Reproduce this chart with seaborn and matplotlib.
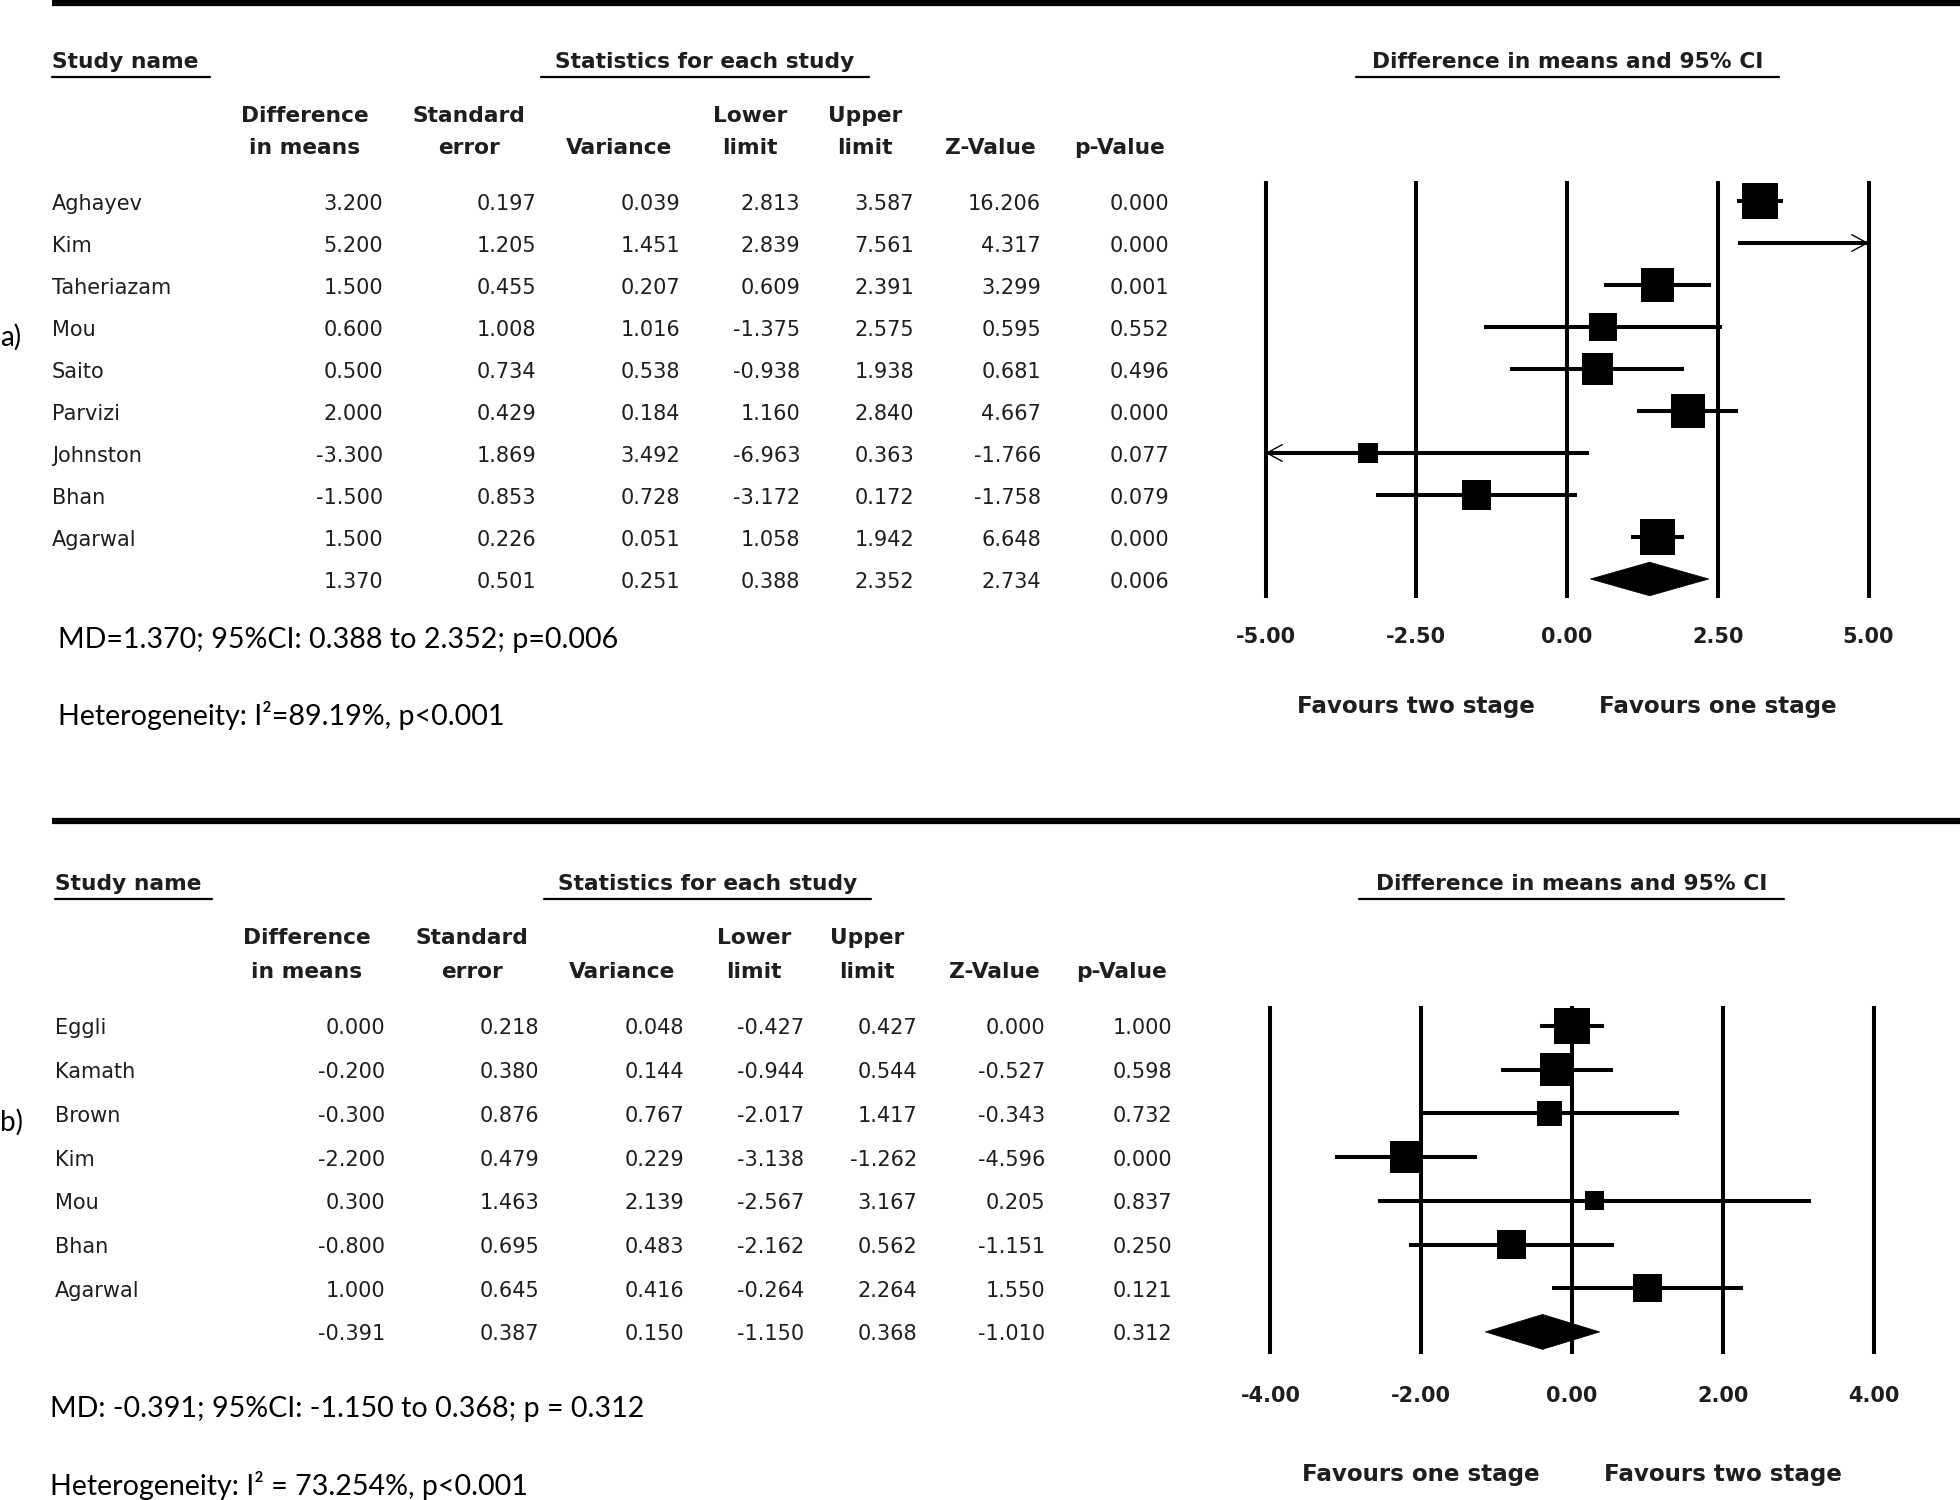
import numpy as np
import pandas as pd
import matplotlib
matplotlib.use("Agg")
import matplotlib.pyplot as plt
import matplotlib.transforms as mtransforms
from matplotlib.patches import Polygon
import seaborn as sns

# ── data: panel a) ───────────────────────────────────────────────────────────
studies_a = ["Aghayev", "Kim", "Taheriazam", "Mou", "Saito", "Parvizi",
             "Johnston", "Bhan", "Agarwal"]
md_a = [3.200, 5.200, 1.500, 0.600, 0.500, 2.000, -3.300, -1.500, 1.500]
se_a = [0.197, 1.205, 0.455, 1.008, 0.734, 0.429, 1.869, 0.853, 0.226]
var_a = [0.039, 1.451, 0.207, 1.016, 0.538, 0.184, 3.492, 0.728, 0.051]
lo_a = [2.813, 2.839, 0.609, -1.375, -0.938, 1.160, -6.963, -3.172, 1.058]
hi_a = [3.587, 7.561, 2.391, 2.575, 1.938, 2.840, 0.363, 0.172, 1.942]
z_a = [16.206, 4.317, 3.299, 0.595, 0.681, 4.667, -1.766, -1.758, 6.648]
p_a = [0.000, 0.000, 0.001, 0.552, 0.496, 0.000, 0.077, 0.079, 0.000]
weight_a = [14.5, 8.1, 13.3, 9.3, 11.3, 13.5, 4.9, 10.4, 14.4]   # relative weight (%)
summary_a = [1.370, 0.501, 0.251, 0.388, 2.352, 2.734, 0.006]
ticks_a = [-5.0, -2.5, 0.0, 2.5, 5.0]
favours_a = ["Favours two stage", "Favours one stage"]
note_a = "MD=1.370; 95%CI: 0.388 to 2.352; p=0.006"
het_a = "Heterogeneity: I\u00b2=89.19%, p<0.001"

# ── data: panel b) ───────────────────────────────────────────────────────────
studies_b = ["Eggli", "Kamath", "Brown", "Kim", "Mou", "Bhan", "Agarwal"]
md_b = [0.000, -0.200, -0.300, -2.200, 0.300, -0.800, 1.000]
se_b = [0.218, 0.380, 0.876, 0.479, 1.463, 0.695, 0.645]
var_b = [0.048, 0.144, 0.767, 0.229, 2.139, 0.483, 0.416]
lo_b = [-0.427, -0.944, -2.017, -3.138, -2.567, -2.162, -0.264]
hi_b = [0.427, 0.544, 1.417, -1.262, 3.167, 0.562, 2.264]
z_b = [0.000, -0.527, -0.343, -4.596, 0.205, -1.151, 1.550]
p_b = [1.000, 0.598, 0.732, 0.000, 0.837, 0.250, 0.121]
weight_b = [20.5, 18.0, 11.0, 17.5, 6.0, 13.5, 13.5]
summary_b = [-0.391, 0.387, 0.150, -1.150, 0.368, -1.010, 0.312]
ticks_b = [-4.0, -2.0, 0.0, 2.0, 4.0]
favours_b = ["Favours one stage", "Favours two stage"]
note_b = "MD: -0.391; 95%CI: -1.150 to 0.368; p = 0.312"
het_b = "Heterogeneity: I\u00b2 = 73.254%, p<0.001"

col_headers = [("Difference", "in means"), ("Standard", "error"), ("", "Variance"),
               ("Lower", "limit"), ("Upper", "limit"), ("", "Z-Value"), ("", "p-Value")]

# ── style / layout (pixel units of the 1960x1500 canvas) ─────────────────────
sns.set_theme(style="white")
plt.rcParams["font.family"] = ["DejaVu Sans"]

W, H = 1960, 1500
TXT = "#1e1e1e"
HDR_FS = 15.7
ROW_FS = 15
NOTE_FONT = ["Lato", "DejaVu Sans"]
NOTE_FS = 20.6
LW = 2.9
DY = 2.5   # small baseline nudge for table text

layout_a = dict(rule_y=3, rule_x=52, head_y=60, uline_y=77,
                name_uline=(52, 210), stat_uline=(541, 869), diff_uline=(1356, 1779),
                hdr_y=(114, 146), row_y0=201, row_dy=42.0, name_x=52,
                col_c=[305, 469, 619, 750, 865, 990, 1119],
                col_r=[383, 536, 680, 800, 914, 1041, 1169],
                zero_px=1567, ppu=60.3, top_px=181, bot_px=598, pad=21,
                fav_y=707, note_x=58, note_y=640, het_y=716, tag="a)", tag_y=337)

layout_b = dict(rule_y=821, rule_x=52, head_y=882, uline_y=899,
                name_uline=(55, 212), stat_uline=(544, 871), diff_uline=(1359, 1784),
                hdr_y=(936, 970), row_y0=1026, row_dy=43.7, name_x=55,
                col_c=[307, 472, 622, 754, 867, 994, 1121],
                col_r=[385, 539, 684, 804, 917, 1045, 1172],
                zero_px=1572, ppu=75.4, top_px=1006, bot_px=1354, pad=23,
                fav_y=1474, note_x=50, note_y=1409, het_y=1486, tag="b)", tag_y=1122)


def draw_panel(fig, bg, lay, names, cols, weights, summary, ticks, favours, note, het):
    md, lo, hi = cols[0], cols[3], cols[4]

    # thick rule on top of the panel
    bg.plot([lay["rule_x"], W], [lay["rule_y"]] * 2, color="black", lw=4.5,
            solid_capstyle="butt")

    # group headers with underlines
    for text, (x0, x1), left in [("Study name", lay["name_uline"], True),
                                 ("Statistics for each study", lay["stat_uline"], False),
                                 ("Difference in means and 95% CI", lay["diff_uline"], False)]:
        x = x0 if left else (x0 + x1) / 2
        bg.text(x, lay["head_y"] + DY, text, ha="left" if left else "center", va="center",
                fontsize=HDR_FS, fontweight="bold", color=TXT)
        bg.plot([x0, x1], [lay["uline_y"]] * 2, color="black", lw=1.6)

    # column headers
    for (l1, l2), xc in zip(col_headers, lay["col_c"]):
        if l1:
            bg.text(xc, lay["hdr_y"][0] + DY, l1, ha="center", va="center",
                    fontsize=HDR_FS, fontweight="bold", color=TXT)
        bg.text(xc, lay["hdr_y"][1] + DY, l2, ha="center", va="center",
                fontsize=HDR_FS, fontweight="bold", color=TXT)

    # study rows + summary row
    n = len(names)
    for i in range(n + 1):
        y = lay["row_y0"] + i * lay["row_dy"] + DY
        if i < n:
            bg.text(lay["name_x"], y, names[i], ha="left", va="center",
                    fontsize=ROW_FS, color=TXT)
            vals = [c[i] for c in cols]
        else:
            vals = summary
        for v, xr in zip(vals, lay["col_r"]):
            bg.text(xr, y, f"{v:.3f}", ha="right", va="center", fontsize=ROW_FS, color=TXT)

    # notes
    bg.text(lay["note_x"], lay["note_y"], note, family=NOTE_FONT, fontsize=NOTE_FS,
            va="center", color="black")
    bg.text(lay["note_x"], lay["het_y"], het, family=NOTE_FONT, fontsize=NOTE_FS,
            va="center", color="black")

    # ── forest plot ──────────────────────────────────────────────────────────
    lim = ticks[-1]
    margin = 0.5
    ppu = lay["ppu"]
    left_px = lay["zero_px"] - (lim + margin) * ppu
    width_px = 2 * (lim + margin) * ppu
    ax = fig.add_axes([left_px / W, 1 - lay["bot_px"] / H, width_px / W,
                       (lay["bot_px"] - lay["top_px"]) / H])
    ax.set_facecolor("none")

    df = pd.DataFrame({"study": names, "md": md, "lo": lo, "hi": hi,
                       "w": weights, "row": np.arange(n)})
    df["lo_c"] = df["lo"].clip(-lim, lim)
    df["hi_c"] = df["hi"].clip(-lim, lim)

    for t in ticks:
        ax.axvline(t, color="black", lw=LW, zorder=1)
    ax.hlines(df["row"], df["lo_c"], df["hi_c"], color="black", lw=LW, zorder=2)

    shown = df[df["md"].abs() <= lim]
    sns.scatterplot(data=shown, x="md", y="row", size="w", sizes=(0, 640),
                    size_norm=(0, max(weights)), marker="s", color="black",
                    linewidth=0, legend=False, ax=ax, zorder=3)

    # arrows where the interval runs past the axis
    for _, r in df.iterrows():
        for end, clipped in [(r["hi"], r["hi_c"]), (r["lo"], r["lo_c"])]:
            if end != clipped:
                ax.annotate("", xy=(clipped, r["row"]),
                            xytext=(clipped - np.sign(clipped) * 0.3, r["row"]),
                            arrowprops=dict(arrowstyle="->,head_length=1.1,head_width=0.6",
                                            lw=1.0, color="black", shrinkA=0, shrinkB=0,
                                            mutation_scale=10), zorder=4)

    # summary diamond
    s_md, s_lo, s_hi = summary[0], summary[3], summary[4]
    h = 0.4
    ax.add_patch(Polygon([(s_lo, n), (s_md, n - h), (s_hi, n), (s_md, n + h)],
                         closed=True, facecolor="black", edgecolor="black", lw=0.5, zorder=3))

    r_top = (lay["top_px"] - lay["row_y0"]) / lay["row_dy"]
    r_bot = (lay["bot_px"] - lay["row_y0"]) / lay["row_dy"]
    ax.set_ylim(r_bot, r_top)
    ax.set_xlim(-lim - margin, lim + margin)
    ax.set_xticks(ticks)
    ax.set_xticklabels([f"{t:.2f}" for t in ticks], fontsize=15, fontweight="bold")
    ax.tick_params(axis="x", length=0, pad=lay["pad"], colors=TXT)
    ax.set_yticks([])
    ax.set_xlabel("")
    ax.set_ylabel("")
    sns.despine(ax=ax, left=True, bottom=True)

    trans = mtransforms.blended_transform_factory(ax.transData, bg.transData)
    for x, label in zip([ticks[1], ticks[3]], favours):
        ax.text(x, lay["fav_y"], label, transform=trans, ha="center", va="center",
                fontsize=16.6, fontweight="bold", color=TXT)

    bg.text(0, lay["tag_y"], lay["tag"], family=NOTE_FONT, fontsize=20,
            ha="left", va="center", color="black")


fig = plt.figure(figsize=(W / 100, H / 100), dpi=100)
bg = fig.add_axes([0, 0, 1, 1])
bg.set_xlim(0, W)
bg.set_ylim(H, 0)
bg.axis("off")

draw_panel(fig, bg, layout_a, studies_a,
           [md_a, se_a, var_a, lo_a, hi_a, z_a, p_a], weight_a, summary_a,
           ticks_a, favours_a, note_a, het_a)
draw_panel(fig, bg, layout_b, studies_b,
           [md_b, se_b, var_b, lo_b, hi_b, z_b, p_b], weight_b, summary_b,
           ticks_b, favours_b, note_b, het_b)

fig.savefig("out.png", dpi=100, facecolor="white")
plt.close(fig)
